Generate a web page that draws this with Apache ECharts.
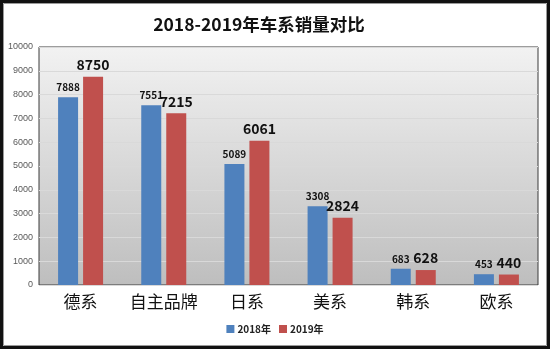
<!DOCTYPE html>
<html><head><meta charset="utf-8">
<script src="https://cdn.jsdelivr.net/npm/echarts@6/dist/echarts.min.js"></script>
<style>html,body{margin:0;padding:0;background:#fff;}#c{width:550px;height:349px;}</style>
</head><body><div id="c"></div>
<script>
const categories = ['德系','自主品牌','日系','美系','韩系','欧系'];
const sales2018 = [7888, 7551, 5089, 3308, 683, 453];
const sales2019 = [8750, 7215, 6061, 2824, 628, 440];
const seriesNames = ['2018年','2019年'];
const yTicks = {min:0, max:10000, interval:1000};

const chart = echarts.init(document.getElementById('c'), null, {renderer:'canvas'});
const font = '"Noto Sans CJK SC","Noto Sans",sans-serif';
chart.setOption({
  animation:false,
  backgroundColor:'#fff',
  title:{text:'2018-2019年车系销量对比', left:254, textAlign:'center', top:11,
    textStyle:{fontFamily:font, fontSize:17.5, fontWeight:'bold', color:'#111'}},
  legend:{bottom:10, left:'center', itemWidth:8, itemHeight:8, itemGap:8,
    icon:'rect', textStyle:{fontFamily:font, fontSize:10, fontWeight:'bold', color:'#222', padding:[0,0,0,-2]},
    data:seriesNames},
  grid:{left:39, right:12, top:47, bottom:64, show:true,
    borderColor:'#3a3a3a', borderWidth:1,
    backgroundColor:new echarts.graphic.LinearGradient(0,0,0,1,[{offset:0,color:'#f2f2f2'},{offset:1,color:'#bebebe'}])},
  xAxis:{type:'category', data:categories,
    axisLine:{show:false}, axisTick:{show:false},
    axisLabel:{interval:0, fontFamily:font, fontSize:17, color:'#111', margin:8}},
  yAxis:{type:'value', min:yTicks.min, max:yTicks.max, interval:yTicks.interval,
    axisLine:{show:false}, axisTick:{show:false},
    axisLabel:{formatter:function(v){return String(v);}, fontFamily:'"Liberation Sans",Arial,sans-serif', fontSize:9, color:'#595959', margin:6},
    splitLine:{lineStyle:{color:'#d9d9d9', width:1}}},
  series:[
    {name:seriesNames[0], type:'bar', data:sales2018, barWidth:20, barGap:'25%',
     itemStyle:{color:'#4f81bd'},
     label:{show:true, position:'top', distance:5, fontFamily:font, fontSize:10, fontWeight:'bold', color:'#111'}},
    {name:seriesNames[1], type:'bar', data:sales2019, barWidth:20,
     itemStyle:{color:'#c0504d'},
     label:{show:true, position:'top', distance:5, fontFamily:font, fontSize:14, fontWeight:'bold', color:'#111'}}
  ],
  graphic:[
    {type:'rect', shape:{x:1.5, y:1.5, width:547, height:346}, style:{fill:'none', stroke:'#111', lineWidth:3}, z:100},
    {type:'rect', shape:{x:3.5, y:3.5, width:543, height:342}, style:{fill:'none', stroke:'#9a9a9a', lineWidth:1}, z:100}
  ]
});
</script></body></html>
